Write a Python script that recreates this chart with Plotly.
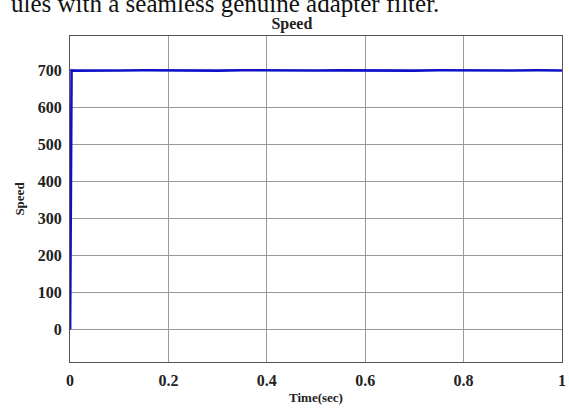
import plotly.graph_objects as go

# Rotor speed response over one second of simulation
time_s = [0.0, 0.0015, 0.003, 0.01, 0.05, 0.1, 0.15, 0.2, 0.25, 0.3, 0.35, 0.4,
          0.45, 0.5, 0.55, 0.6, 0.65, 0.7, 0.75, 0.8, 0.85, 0.9, 0.95, 1.0]
speed = [0, 350, 700, 699.5, 700.4, 699.6, 700.3, 699.7, 700.2, 699.5, 700.4, 699.8,
         700.3, 699.6, 700.2, 699.7, 700.4, 699.5, 700.3, 699.8, 700.2, 699.6, 700.3, 699.9]

x_ticks = [0, 0.2, 0.4, 0.6, 0.8, 1]
x_tick_text = ["0", "0.2", "0.4", "0.6", "0.8", "1"]
y_ticks = [0, 100, 200, 300, 400, 500, 600, 700]

serif = "Liberation Serif, Times New Roman, serif"

fig = go.Figure()
fig.add_trace(go.Scatter(
    x=time_s, y=speed, mode="lines",
    line=dict(color="#1010c8", width=2.6),
    showlegend=False,
))

axis_common = dict(
    showgrid=True, gridcolor="#9a9a9a", gridwidth=1,
    showline=True, linecolor="#555555", linewidth=1.2, mirror=True,
    zeroline=False, ticks="",
    tickfont=dict(family=serif, size=16, color="#222222", weight="bold"),
)

fig.update_xaxes(
    range=[-0.0002, 1.0002], tickvals=x_ticks, ticktext=x_tick_text,
    ticklabeloverflow="allow", ticklabelstandoff=4,
    title=dict(text="Time(sec)", font=dict(family=serif, size=13, color="#222222", weight="bold"), standoff=4),
    **axis_common,
)
fig.update_yaxes(
    range=[-88, 793], tickvals=y_ticks, ticklabelstandoff=4,
    title=dict(text="Speed", font=dict(family=serif, size=13, color="#222222", weight="bold"), standoff=10),
    **axis_common,
)

fig.update_layout(
    width=569, height=412,
    margin=dict(l=70, r=3, t=36, b=50),
    paper_bgcolor="white", plot_bgcolor="white",
    title=dict(text="Speed", x=0.513, xanchor="center", y=0.942, yanchor="middle",
               font=dict(family=serif, size=16, color="#222222", weight="bold")),
)

# Caption line from the surrounding text, clipped at the top edge
fig.add_annotation(
    text="ules with a seamless genuine adapter filter.",
    xref="paper", yref="paper", x=-0.125, y=1.053,
    xanchor="left", yanchor="bottom", showarrow=False,
    font=dict(family=serif, size=25, color="#111111"),
)

fig.write_html("out.html")
